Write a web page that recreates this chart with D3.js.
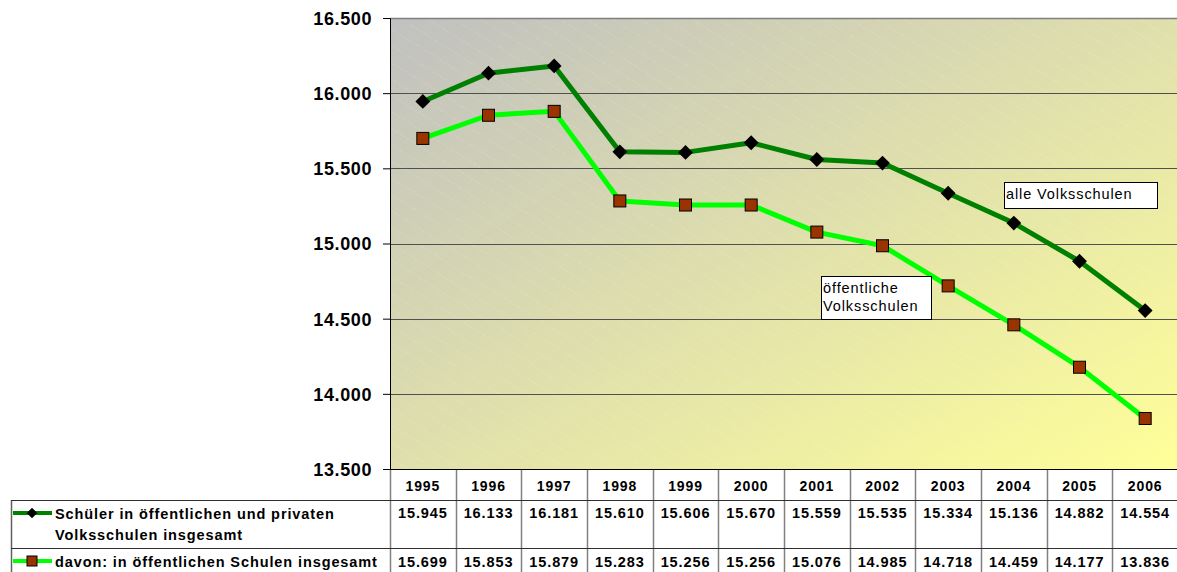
<!DOCTYPE html>
<html>
<head>
<meta charset="utf-8">
<script src="https://cdn.jsdelivr.net/npm/d3@7"></script>
<style>
  body { margin: 0; background: #fff; }
  svg { font-family: "Liberation Sans", Arial, sans-serif; display: block; }
</style>
</head>
<body>
<svg width="1177" height="572"></svg>
<script>
const years = ["1995","1996","1997","1998","1999","2000","2001","2002","2003","2004","2005","2006"];
const alleSchulen = [15945,16133,16181,15610,15606,15670,15559,15535,15334,15136,14882,14554];
const oeffSchulen = [15699,15853,15879,15283,15256,15256,15076,14985,14718,14459,14177,13836];
const yTicks = [13500,14000,14500,15000,15500,16000,16500];
const seriesNames = ["Schüler in öffentlichen und privaten|Volksschulen insgesamt", "davon: in öffentlichen Schulen insgesamt"];

const pLeft = 390, pRight = 1178, pTop = 18, pBottom = 469;
const fmt = v => d3.format(",")(v).replace(/,/g, ".");

const svg = d3.select("svg");
const defs = svg.append("defs");

const grad = defs.append("linearGradient")
  .attr("id", "bg").attr("x1", "0%").attr("y1", "0%").attr("x2", "100%").attr("y2", "100%");
grad.append("stop").attr("offset", "0%").attr("stop-color", "#c0c0c0");
grad.append("stop").attr("offset", "100%").attr("stop-color", "#ffff99");

const pat = defs.append("pattern")
  .attr("id", "hatch").attr("patternUnits", "userSpaceOnUse")
  .attr("width", 14).attr("height", 14)
  .attr("patternTransform", "rotate(-58)");
pat.append("line").attr("x1", 0).attr("y1", 0).attr("x2", 0).attr("y2", 14)
  .attr("stroke", "#fff").attr("stroke-opacity", 0.35).attr("stroke-width", 0.8)
  .attr("stroke-dasharray", "2,2");

const x = d3.scaleBand().domain(years).range([pLeft, pRight]);
const y = d3.scaleLinear().domain([13500, 16500]).range([pBottom, pTop]);

// plot background
svg.append("rect").attr("x", pLeft).attr("y", pTop)
  .attr("width", pRight - pLeft).attr("height", pBottom - pTop).attr("fill", "url(#bg)");
svg.append("rect").attr("x", pLeft).attr("y", pTop)
  .attr("width", pRight - pLeft).attr("height", pBottom - pTop).attr("fill", "url(#hatch)");

// gridlines
svg.append("g").selectAll("line").data(yTicks.slice(1, -1)).join("line")
  .attr("x1", pLeft).attr("x2", pRight)
  .attr("y1", d => Math.round(y(d)) + 0.5).attr("y2", d => Math.round(y(d)) + 0.5)
  .attr("stroke", "#505050").attr("stroke-width", 1);
svg.append("line").attr("x1", pLeft).attr("x2", pRight)
  .attr("y1", pTop + 0.5).attr("y2", pTop + 0.5).attr("stroke", "#808080").attr("stroke-width", 1.5);

// y axis
const yAxis = svg.append("g").attr("transform", `translate(${pLeft},0)`)
  .call(d3.axisLeft(y).tickValues(yTicks).tickFormat(fmt).tickSize(7).tickPadding(11));
yAxis.select(".domain").attr("stroke", "#000");
yAxis.selectAll("line").attr("stroke", "#000");
yAxis.selectAll("text").attr("font-size", 18).attr("font-weight", "bold")
  .attr("letter-spacing", 0.6).attr("dy", "0.36em")
  .attr("fill", "#000").attr("font-family", "Liberation Sans, Arial, sans-serif");

// lines
const cx = d => x(d) + x.bandwidth() / 2;
const line = d3.line().x((d, i) => cx(years[i])).y(d => y(d));

svg.append("path").datum(oeffSchulen).attr("d", line)
  .attr("fill", "none").attr("stroke", "#00ff00").attr("stroke-width", 5).attr("stroke-linejoin", "round");
svg.append("path").datum(alleSchulen).attr("d", line)
  .attr("fill", "none").attr("stroke", "#008000").attr("stroke-width", 5).attr("stroke-linejoin", "round");

// markers
svg.append("g").selectAll("rect").data(oeffSchulen).join("rect")
  .attr("x", (d, i) => cx(years[i]) - 6).attr("y", d => y(d) - 6)
  .attr("width", 12).attr("height", 12)
  .attr("fill", "#993300").attr("stroke", "#000").attr("stroke-width", 1);
svg.append("g").selectAll("path").data(alleSchulen).join("path")
  .attr("d", d3.symbol(d3.symbolSquare, 110))
  .attr("transform", (d, i) => `translate(${cx(years[i])},${y(d)}) rotate(45)`)
  .attr("fill", "#000");

// annotation boxes
function note(bx, by, w, h, lines) {
  const g = svg.append("g");
  g.append("rect").attr("x", bx + 0.5).attr("y", by + 0.5).attr("width", w).attr("height", h)
    .attr("fill", "#fff").attr("stroke", "#000").attr("stroke-width", 1);
  lines.forEach((t, i) => g.append("text").attr("x", bx + 2).attr("y", by + 17 + i * 18)
    .attr("font-size", 14.5).attr("letter-spacing", 0.9).attr("fill", "#000").text(t));
}
note(1004, 182, 153, 26, ["alle Volksschulen"]);
note(821, 276, 110, 43, ["öffentliche", "Volksschulen"]);

// data table
const tbl = svg.append("g");
const rowY = [469, 500, 548, 572];
const colX = years.map(d => x(d));

// vertical dividers
tbl.selectAll("line.v").data(colX).join("line")
  .attr("x1", d => Math.round(d) + 0.5).attr("x2", d => Math.round(d) + 0.5)
  .attr("y1", rowY[0]).attr("y2", rowY[3])
  .attr("stroke", "#808080").attr("stroke-width", 1.5);
tbl.append("line").attr("x1", 11.5).attr("x2", 11.5).attr("y1", rowY[1]).attr("y2", rowY[3])
  .attr("stroke", "#606060").attr("stroke-width", 1.5);
// horizontal dividers
tbl.append("line").attr("x1", pLeft).attr("x2", pRight).attr("y1", rowY[0] + 0.5).attr("y2", rowY[0] + 0.5)
  .attr("stroke", "#000");
[rowY[1], rowY[2]].forEach(ry => tbl.append("line").attr("x1", 11).attr("x2", pRight)
  .attr("y1", ry + 0.5).attr("y2", ry + 0.5).attr("stroke", "#303030").attr("stroke-width", 1.2));

const cellText = sel => sel.attr("font-size", 14.5).attr("font-weight", "bold")
  .attr("letter-spacing", 0.9).attr("fill", "#000");

// year header
tbl.append("g").selectAll("text").data(years).join("text")
  .attr("x", d => cx(d)).attr("y", 491).attr("text-anchor", "middle")
  .call(cellText).attr("font-size", 14).text(d => d);

// values
[alleSchulen, oeffSchulen].forEach((vals, r) => {
  tbl.append("g").selectAll("text").data(vals).join("text")
    .attr("x", (d, i) => cx(years[i])).attr("y", r === 0 ? 518 : 567).attr("text-anchor", "middle")
    .call(cellText).text(d => fmt(d));
});

// legend keys + labels
const keyY = [513, 561];
tbl.append("line").attr("x1", 13).attr("x2", 52).attr("y1", keyY[0]).attr("y2", keyY[0])
  .attr("stroke", "#008000").attr("stroke-width", 4);
tbl.append("path").attr("d", d3.symbol(d3.symbolSquare, 55))
  .attr("transform", `translate(32,${keyY[0]}) rotate(45)`).attr("fill", "#000");
tbl.append("line").attr("x1", 13).attr("x2", 52).attr("y1", keyY[1]).attr("y2", keyY[1])
  .attr("stroke", "#00ff00").attr("stroke-width", 4);
tbl.append("rect").attr("x", 27).attr("y", keyY[1] - 5).attr("width", 10).attr("height", 10)
  .attr("fill", "#993300").attr("stroke", "#000");

seriesNames[0].split("|").forEach((t, i) => tbl.append("text")
  .attr("x", 55).attr("y", 519 + i * 21).call(cellText).text(t));
tbl.append("text").attr("x", 55).attr("y", 567).call(cellText).text(seriesNames[1]);
</script>
</body>
</html>
